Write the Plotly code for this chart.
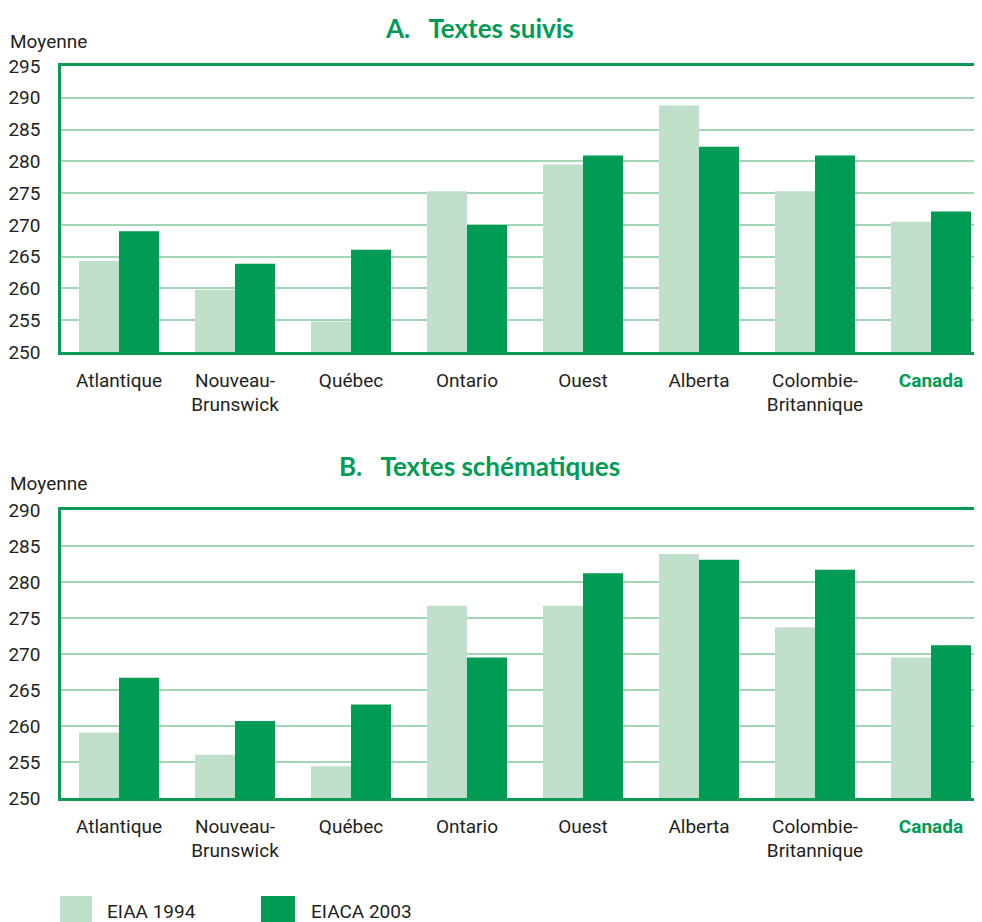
import plotly.graph_objects as go
from plotly.subplots import make_subplots

categories = ["Atlantique", "Nouveau-<br>Brunswick", "Québec", "Ontario", "Ouest",
              "Alberta", "Colombie-<br>Britannique",
              "<span style='color:#009C55'><b>Canada</b></span>"]
series_names = ["EIAA 1994", "EIACA 2003"]

# A. Textes suivis
a_1994 = [264.3, 259.8, 254.8, 275.3, 279.5, 288.8, 275.3, 270.5]
a_2003 = [269.0, 263.9, 266.1, 270.0, 280.9, 282.3, 280.9, 272.1]
# B. Textes schématiques
b_1994 = [259.1, 256.0, 254.4, 276.7, 276.7, 283.9, 273.7, 269.5]
b_2003 = [266.7, 260.7, 263.0, 269.5, 281.2, 283.1, 281.7, 271.2]

titles = ["A.   Textes suivis", "B.   Textes schématiques"]
a_ticks = [250, 255, 260, 265, 270, 275, 280, 285, 290, 295]
b_ticks = [250, 255, 260, 265, 270, 275, 280, 285, 290]

LIGHT = "#BFDFCB"
DARK = "#009C55"
GRID = "#A3D5B8"
AXIS = "#0A9A55"
TXT = "#231F20"
TICKFONT = "Roboto, Liberation Sans, sans-serif"
TITLEFONT = "Lato, Open Sans, sans-serif"

OFF = 8                      # page body margin
W, H = 982 - OFF, 922 - OFF
L = 61 - OFF
PW = W - L

fig = make_subplots(rows=2, cols=1)

for row, (v94, v03) in enumerate([(a_1994, a_2003), (b_1994, b_2003)], start=1):
    fig.add_trace(go.Bar(x=categories, y=[v - 250 for v in v94], base=250,
                         name=series_names[0], marker=dict(color=LIGHT, line_width=0),
                         showlegend=False), row=row, col=1)
    fig.add_trace(go.Bar(x=categories, y=[v - 250 for v in v03], base=250,
                         name=series_names[1], marker=dict(color=DARK, line_width=0),
                         showlegend=False), row=row, col=1)

def py(px):
    return 1 - (px - OFF) / H

def pxx(px):
    return (px - OFF - L) / PW

fig.update_layout(
    width=W, height=H,
    margin=dict(l=L, r=0, t=0, b=0, autoexpand=False),
    paper_bgcolor="white", plot_bgcolor="white",
    barmode="group", bargap=0.31, bargroupgap=0,
    font=dict(family=TICKFONT, color=TXT, size=19),
)

fig.update_layout(
    xaxis=dict(domain=[0, 1], anchor="y"),
    xaxis2=dict(domain=[0, 1], anchor="y2"),
    yaxis=dict(domain=[py(352), py(66)], anchor="x"),
    yaxis2=dict(domain=[py(798), py(510)], anchor="x2"),
)

# x range chosen so that the 8 categories span 116 px each, the last slightly clipped
span = (982 - 61) / 116.0
fig.update_xaxes(showline=True, linecolor=AXIS, linewidth=2.5, mirror=True,
                 showgrid=False, ticks="", tickfont=dict(size=19, color=TXT),
                 ticklabelstandoff=9, automargin=False, range=[-0.5, -0.5 + span])
fig.update_yaxes(showline=True, linecolor=AXIS, linewidth=2.5, mirror=False,
                 showgrid=True, gridcolor=GRID, gridwidth=2, zeroline=False,
                 ticks="", tickfont=dict(size=19, color=TXT), ticklabelstandoff=14,
                 automargin=False)
fig.update_yaxes(range=[250, 295], tickvals=a_ticks, row=1, col=1)
fig.update_yaxes(range=[250, 290], tickvals=b_ticks, row=2, col=1)

annotations = []
for title, ytitle, ymoy in [(titles[0], 28, 42), (titles[1], 466, 483)]:
    annotations.append(dict(text="<b>" + title + "</b>", x=pxx(479), y=py(ytitle),
                            xref="paper", yref="paper", showarrow=False,
                            xanchor="center", yanchor="middle",
                            font=dict(family=TITLEFONT, size=26, color=DARK)))
    annotations.append(dict(text="Moyenne", x=pxx(8), y=py(ymoy),
                            xref="paper", yref="paper", showarrow=False,
                            xanchor="left", yanchor="middle",
                            font=dict(family=TICKFONT, size=19, color=TXT)))

# Legend (drawn manually to match the large swatches)
shapes = []
legend_items = [(series_names[0], LIGHT, 60, 92, 105), (series_names[1], DARK, 261, 295, 309)]
for name, color, x0, x1, xt in legend_items:
    shapes.append(dict(type="rect", xref="paper", yref="paper",
                       x0=pxx(x0), x1=pxx(x1), y0=py(930), y1=py(896),
                       fillcolor=color, line_width=0))
    annotations.append(dict(text=name, x=pxx(xt), y=py(911), xref="paper", yref="paper",
                            showarrow=False, xanchor="left", yanchor="middle",
                            font=dict(family=TICKFONT, size=19, color=TXT)))

fig.update_layout(annotations=annotations, shapes=shapes)

fig.write_html("out.html")
